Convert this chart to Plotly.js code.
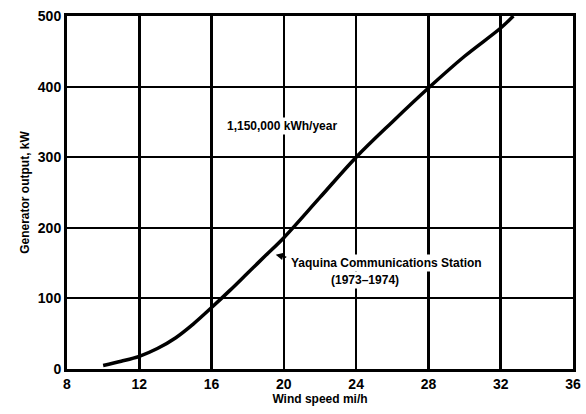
<!DOCTYPE html>
<html>
<head>
<meta charset="utf-8">
<script src="https://cdn.plot.ly/plotly-3.0.1.min.js"></script>
<style>html,body{margin:0;padding:0;background:#fff;}#chart{width:586px;height:414px;}</style>
</head>
<body>
<div id="chart"></div>
<script>
const windSpeed = [10, 11, 12, 13, 14, 15, 16, 17, 18, 19, 20, 22, 24, 26, 28, 30, 32, 32.7];
const outputKW  = [5, 11, 18, 29, 44, 64, 87, 111, 136, 161, 186, 243, 300, 350, 398, 443, 483, 500];
const xTicks = [8, 12, 16, 20, 24, 28, 32, 36];
const yTicks = [0, 100, 200, 300, 400, 500];

const F = 'Liberation Sans Narrow, Liberation Sans, Arial, sans-serif';

const trace = {
  x: windSpeed, y: outputKW, mode: 'lines', type: 'scatter',
  line: {color: '#000', width: 3.5, shape: 'spline', smoothing: 1},
  hoverinfo: 'skip', showlegend: false
};

const layout = {
  width: 586, height: 414,
  margin: {l: 67, r: 13, t: 16, b: 45},
  paper_bgcolor: '#fff', plot_bgcolor: '#fff',
  font: {family: F, color: '#000', size: 13},
  xaxis: {
    range: [8, 36], tickvals: xTicks, ticktext: xTicks.map(v => '<b>' + v + '</b>'),
    showgrid: true, gridcolor: '#000', gridwidth: 2.5,
    showline: true, linecolor: '#000', linewidth: 3, mirror: true,
    ticks: '', zeroline: false, tickfont: {family: F, size: 14, color: '#000'},
    title: {text: '<b>Wind speed mi/h</b>', font: {family: F, size: 12, color: '#000'}, standoff: 2}
  },
  yaxis: {
    range: [0, 500], tickvals: yTicks, ticktext: yTicks.map(v => '<b>' + v + '</b>'),
    showgrid: true, gridcolor: '#000', gridwidth: 2,
    showline: true, linecolor: '#000', linewidth: 3, mirror: true,
    ticks: '', zeroline: false, tickfont: {family: F, size: 14, color: '#000'},
    title: {text: '<b>Generator output, kW</b>', font: {family: F, size: 12, color: '#000'}, standoff: 6}
  },
  annotations: [
    {x: 19.9, y: 344, xref: 'x', yref: 'y', text: '<b>1,150,000 kWh/year</b>', showarrow: false,
     font: {family: F, size: 12, color: '#000'}, bgcolor: '#fff'},
    {x: 20.3, y: 150, xref: 'x', yref: 'y', xanchor: 'left', text: '<b>Yaquina Communications Station</b>', showarrow: false,
     font: {family: F, size: 12, color: '#000'}, bgcolor: '#fff'},
    {x: 22.5, y: 126, xref: 'x', yref: 'y', xanchor: 'left', text: '<b>(1973–1974)</b>', showarrow: false,
     font: {family: F, size: 12, color: '#000'}, bgcolor: '#fff'},
    {x: 19.55, y: 162, xref: 'x', yref: 'y', ax: 12, ay: 3, text: '', showarrow: true,
     arrowhead: 2, arrowsize: 1, arrowwidth: 1.5, arrowcolor: '#000'}
  ]
};

Plotly.newPlot('chart', [trace], layout, {staticPlot: true, displayModeBar: false});
</script>
</body>
</html>
